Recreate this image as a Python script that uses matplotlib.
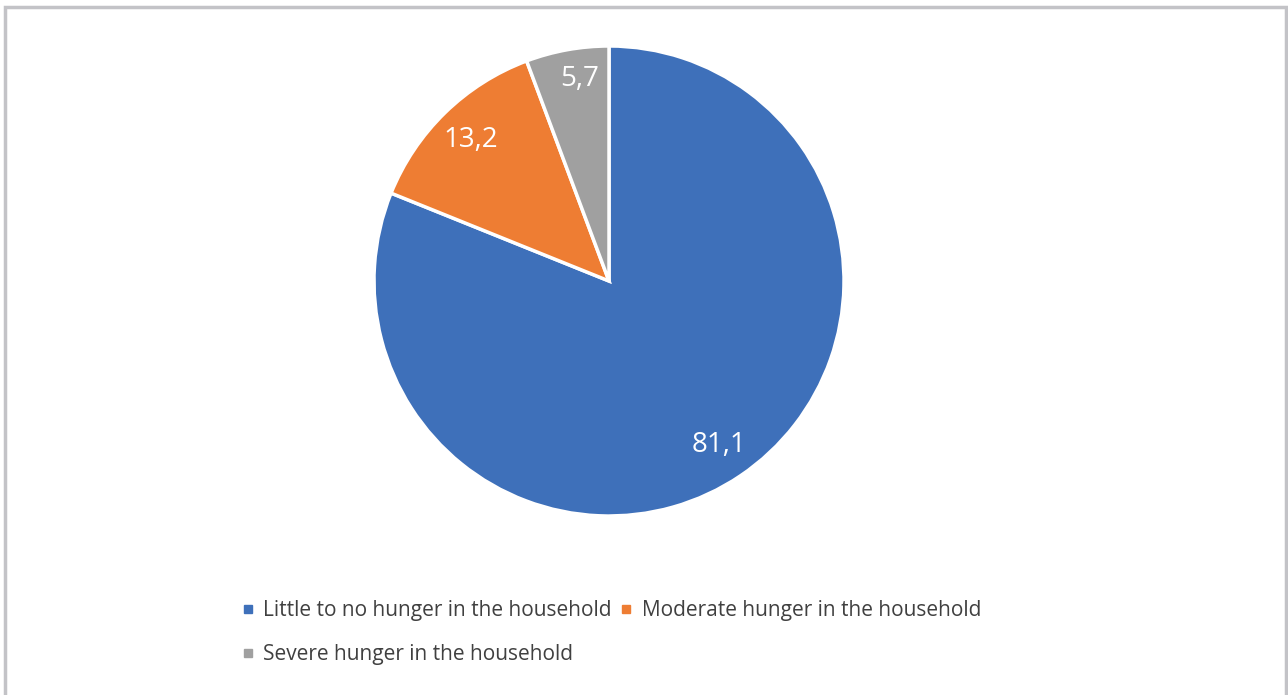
import matplotlib
matplotlib.use("Agg")
import matplotlib.pyplot as plt
import numpy as np
from matplotlib.patches import Rectangle
from matplotlib.lines import Line2D

categories = ["Little to no hunger in the household",
              "Moderate hunger in the household",
              "Severe hunger in the household"]
values = [81.1, 13.2, 5.7]
value_labels = ["81,1", "13,2", "5,7"]
colors = ["#3E70BA", "#EE7D33", "#A0A0A0"]

plt.rcParams['font.family'] = ['Open Sans', 'DejaVu Sans']

W, H = 1288, 695
fig = plt.figure(figsize=(W / 100, H / 100), dpi=100)
fig.patch.set_facecolor("white")

cx, cy, r = 609, 281, 235
ax = fig.add_axes([(cx - r) / W, (H - cy - r) / H, 2 * r / W, 2 * r / H])
wedges, _ = ax.pie(values, colors=colors, startangle=90, counterclock=False,
                   radius=1.0, wedgeprops=dict(edgecolor="white", linewidth=2.5))
ax.set_xlim(-1, 1)
ax.set_ylim(-1, 1)
ax.set_aspect("equal")
ax.axis("off")

dists = [0.84, 0.84, 0.87]
shifts = [0.0, 0.0, 2.0]  # small angular shift in degrees
for w, lab, d, s in zip(wedges, value_labels, dists, shifts):
    ang = np.deg2rad((w.theta1 + w.theta2) / 2 - s)
    ax.text(d * np.cos(ang), d * np.sin(ang), lab, ha="center", va="center",
            color="white", fontsize=20)

# legend: order so that col1 = Little, Severe ; col2 = Moderate
order = [0, 2, 1]
handles = [Line2D([], [], marker="s", linestyle="none", markersize=6,
                  markerfacecolor=colors[i], markeredgecolor=colors[i]) for i in order]
labels = [categories[i] for i in order]
fig.legend(handles, labels, loc="upper left", ncol=2, frameon=False,
           bbox_to_anchor=(231 / W, 1 - 590 / H), fontsize=15,
           handlelength=0.6, handletextpad=0.45, columnspacing=0.4,
           labelspacing=1.08, borderpad=0, labelcolor="#404040")

fig.patches.append(Rectangle((4.5 / W, -0.2), (1285.5 - 4.5) / W, 1.2 - 6.5 / H,
                             transform=fig.transFigure, fill=False,
                             edgecolor="#C3C3C7", linewidth=2.5))

fig.savefig("out.png", dpi=100, facecolor="white")
